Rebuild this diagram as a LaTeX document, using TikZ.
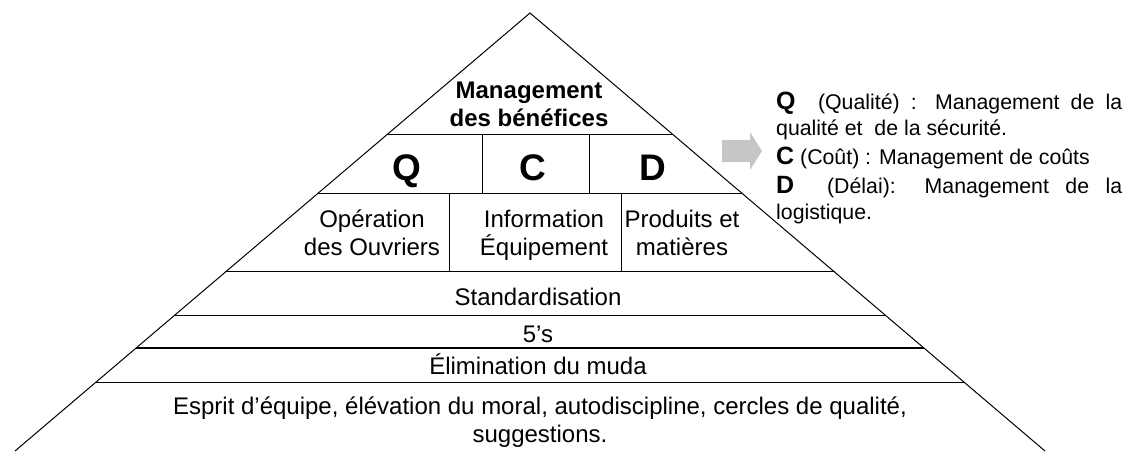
\documentclass[tikz,border=0pt]{standalone}
\usepackage{fontspec}
\setmainfont{Liberation Sans}
\usetikzlibrary{calc, positioning}

\tikzset{
  trait/.style={draw=black, line width=1pt},
  texte/.style={font=\fontsize{24}{27.5}\selectfont, align=center, inner sep=0pt, anchor=base},
  gras/.style={font=\bfseries\fontsize{24}{28}\selectfont, align=center, inner sep=0pt, anchor=base},
  lettre/.style={font=\bfseries\fontsize{37}{37}\selectfont, inner sep=0pt, anchor=base},
  legende/.style={font=\fontsize{21.3}{26}\selectfont, text width=346pt, align=justify, inner sep=0pt, anchor=base west}
}
\definecolor{grisfleche}{RGB}{198,198,198}

\begin{document}
\begin{tikzpicture}[x=1pt, y=-1pt]
    \useasboundingbox (0,0) rectangle (1128,451);

    % Pyramid outline
    \coordinate (sommet) at (530,13);
    \coordinate (basg) at (15,451);
    \coordinate (basd) at (1045,451);
    \draw[trait] (basg) -- (sommet) -- (basd);

    % Horizontal bands
    \foreach \t/\w in {0.2785/1pt, 0.4110/1pt, 0.5913/1pt, 0.6895/1pt, 0.7648/1.6pt, 0.8425/1pt} {
        \draw[trait, line width=\w] ($(sommet)!\t!(basg)$) -- ($(sommet)!\t!(basd)$);
    }

    % Cell separators
    \foreach \x in {482,589} {
        \draw[trait] (\x,135) -- (\x,193);
    }
    \foreach \x in {449,621} {
        \draw[trait] (\x,193) -- (\x,272);
    }

    % Top of the pyramid (base = last line)
    \node[gras] (benefices) at (529,126) {Management\\des bénéfices};

    % Q C D
    \node[lettre] (q) at (407,180) {Q};
    \node[lettre] (c) at (533,180) {C};
    \node[lettre] (d) at (653,180) {D};

    % Third row
    \node[texte] (ouvriers) at (372,255) {Opération\\des Ouvriers};
    \node[texte] (equipement) at (544,255) {Information\\Équipement};
    \node[texte] (produits) at (682,255) {Produits et\\matières};

    % Lower bands
    \node[texte] (standard) at (538,305) {Standardisation};
    \node[texte] (cinqs) at (538,342) {5’s};
    \node[texte] (muda) at (538,374) {Élimination du muda};
    \node[texte] (esprit) at (540,442) {Esprit d’équipe, élévation du moral, autodiscipline, cercles de qualité,\\suggestions.};

    % Grey arrow
    \fill[grisfleche] (722,140) -- (750,140) -- (750,132) -- (762,151) -- (750,170) -- (750,162) -- (722,162) -- cycle;

    % Legend
    \node[legende] (explication) at (776,109) {\setlength{\parskip}{3pt}%
        {\bfseries\fontsize{25}{26}\selectfont Q}\ \ (Qualité) : Management de la\linebreak qualité et\ \ de la sécurité.\par
        {\bfseries\fontsize{25}{26}\selectfont C} (Coût) : Management de coûts\par
        {\bfseries\fontsize{25}{26}\selectfont D}\ \ (Délai): Management de la\linebreak logistique.};
\end{tikzpicture}
\end{document}
